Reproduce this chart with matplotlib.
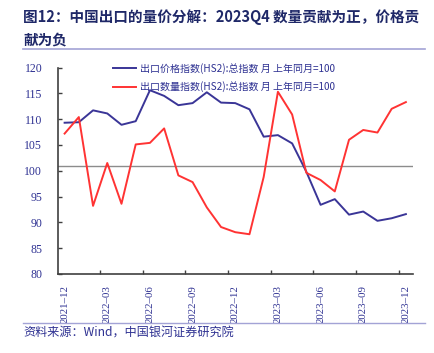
import matplotlib
matplotlib.use("Agg")
import matplotlib.pyplot as plt
import numpy as np

# ---- data ----
months = ["2021-12", "2022-01", "2022-02", "2022-03", "2022-04", "2022-05", "2022-06",
          "2022-07", "2022-08", "2022-09", "2022-10", "2022-11", "2022-12",
          "2023-01", "2023-02", "2023-03", "2023-04", "2023-05", "2023-06",
          "2023-07", "2023-08", "2023-09", "2023-10", "2023-11", "2023-12"]
price_index = [109.3, 109.4, 111.7, 111.1, 108.9, 109.6, 115.6, 114.5, 112.7, 113.1,
               115.2, 113.2, 113.1, 111.9, 106.6, 106.9, 105.3, 99.8, 93.4, 94.5,
               91.5, 92.1, 90.3, 90.8, 91.6]
volume_index = [107.2, 110.4, 93.2, 101.5, 93.6, 105.1, 105.4, 108.2, 99.1, 97.8,
                92.9, 89.1, 88.1, 87.7, 98.8, 115.3, 110.9, 99.6, 98.2, 96.0,
                106.0, 107.9, 107.4, 112.0, 113.3]
ref_level = 100.9
series_labels = ["出口价格指数(HS2):总指数 月 上年同月=100",
                 "出口数量指数(HS2):总指数 月 上年同月=100"]
yticks = [80, 85, 90, 95, 100, 105, 110, 115, 120]
title_lines = ["图12：中国出口的量价分解：2023Q4 数量贡献为正，价格贡", "献为负"]
source_text = "资料来源：Wind，中国银河证券研究院"

plt.rcParams["font.serif"] = ["Liberation Serif", "DejaVu Serif"]

NAVY = "#2E3192"
TITLE = "#1F2868"
BLUE = "#3A3597"
RED = "#FF3333"
CJK = ["Noto Sans CJK SC", "DejaVu Sans"]

W, H = 434, 353
fig = plt.figure(figsize=(W / 100, H / 100), dpi=100)

def fx(px):
    return px / W

def fy(py):
    return 1 - py / H

ax = fig.add_axes([fx(57.5), fy(274), fx(413 - 57.5), (274 - 67.5) / H])
x = np.arange(len(months))
ax.plot(x, price_index, color=BLUE, lw=1.4, label=series_labels[0], zorder=3)
ax.plot(x, volume_index, color=RED, lw=1.4, label=series_labels[1], zorder=3)
ax.axhline(ref_level, color="#8C8C8C", lw=1.0, zorder=2)

ax.set_xlim(-0.5, len(months) - 0.5)
ax.set_ylim(80, 120)
ax.set_yticks(yticks)
ax.set_yticklabels([str(v) for v in yticks])
for t in ax.get_yticklabels():
    t.set_fontfamily("serif")
    t.set_fontsize(8.5)
    t.set_color(NAVY)

label_idx = list(range(0, len(months), 3))
ax.set_xticks(label_idx)
ax.set_xticklabels([months[i].replace("-", "–") for i in label_idx], rotation=90)
for t in ax.get_xticklabels():
    t.set_fontfamily("serif")
    t.set_fontsize(7.8)
    t.set_color(NAVY)
ax.tick_params(axis="x", which="major", length=0, pad=8)
ax.set_xticks([i - 0.5 for i in label_idx[1:]], minor=True)
ax.tick_params(axis="x", which="minor", direction="in", length=3, width=1, color="#404040")
ax.tick_params(axis="y", direction="in", length=3, width=1, color="#404040", pad=11)

for s in ["top", "right"]:
    ax.spines[s].set_visible(False)
for s in ["left", "bottom"]:
    ax.spines[s].set_color("#404040")
    ax.spines[s].set_linewidth(1.2)

leg = ax.legend(loc="upper left", bbox_to_anchor=(fx(104 - 57.5) / fx(413 - 57.5), 1.065),
                frameon=False, prop={"family": CJK, "size": 7.2},
                handlelength=2.3, handletextpad=0.4, labelspacing=0.75)
for t in leg.get_texts():
    t.set_color(NAVY)

# title
fig.text(fx(23), fy(17), title_lines[0], fontfamily=CJK, fontsize=10.5,
         fontweight="bold", color=TITLE, va="center", ha="left")
fig.text(fx(23), fy(40), title_lines[1], fontfamily=CJK, fontsize=10.5,
         fontweight="bold", color=TITLE, va="center", ha="left")
fig.add_artist(plt.Line2D([fx(23), fx(425)], [fy(48.5), fy(48.5)], color="#A3A3D6", lw=1.2))
fig.add_artist(plt.Line2D([fx(23), fx(425)], [fy(323), fy(323)], color="#A3A3D6", lw=1.0))
fig.text(fx(23), fy(333), source_text, fontfamily=CJK, fontsize=8.7, style="italic",
         color=NAVY, va="center", ha="left")

fig.savefig("out.png", dpi=100, facecolor="white")
